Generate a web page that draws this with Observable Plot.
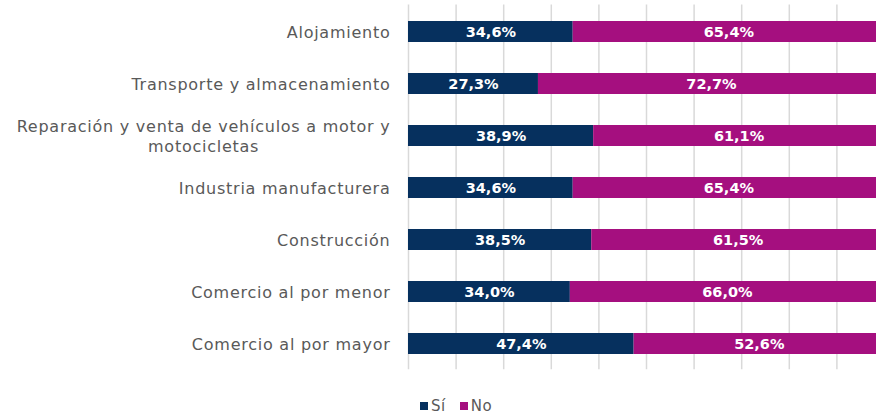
<!DOCTYPE html>
<html>
<head>
<meta charset="utf-8">
<script src="https://cdn.jsdelivr.net/npm/d3@7"></script>
<script src="https://cdn.jsdelivr.net/npm/@observablehq/plot@0.6"></script>
<style>
  html, body { margin: 0; padding: 0; background: #fff; overflow: hidden; }
  #chart { position: relative; width: 876px; height: 419px; }
  #legend { position: absolute; left: 420px; top: 397px; font-family: "DejaVu Sans", sans-serif; font-size: 15px; letter-spacing: 0.5px; color: #595959; display: flex; align-items: center; }
  #legend .sw { display: inline-block; width: 8px; height: 8px; margin-right: 3px; }
  #legend .item { display: flex; align-items: center; margin-right: 14px; }
</style>
</head>
<body>
<div id="chart"></div>
<script>
const categories = [
  "Alojamiento",
  "Transporte y almacenamiento",
  "Reparación y venta de vehículos a motor y\nmotocicletas",
  "Industria manufacturera",
  "Construcción",
  "Comercio al por menor",
  "Comercio al por mayor"
];
const series = ["Sí", "No"];
const siValues = [34.6, 27.3, 38.9, 34.6, 38.5, 34.0, 47.4];
const noValues = [65.4, 72.7, 61.1, 65.4, 61.5, 66.0, 52.6];
const gridTicks = [0, 10, 20, 30, 40, 50, 60, 70, 80, 90, 100];
const colors = ["#06305E", "#A50F7F"];

const data = [];
categories.forEach((c, i) => {
  data.push({cat: c, series: "Sí", value: siValues[i]});
  data.push({cat: c, series: "No", value: noValues[i]});
});

const fmt = v => v.toFixed(1).replace(".", ",") + "%";

const plot = Plot.plot({
  width: 876,
  height: 385,
  marginLeft: 408,
  marginRight: -8,
  marginTop: 4.5,
  marginBottom: 15.7,
  x: {domain: [0, 100], axis: null},
  y: {domain: categories, axis: null, paddingInner: 0.6, paddingOuter: 0.3},
  color: {domain: series, range: colors},
  marks: [
    Plot.ruleX(gridTicks, {stroke: "#d9d9d9", strokeWidth: 1.5}),
    Plot.barX(data, Plot.stackX({x: "value", y: "cat", fill: "series"})),
    Plot.text(data, Plot.stackX({
      x: "value", y: "cat", text: d => fmt(d.value),
      fill: "white", fontWeight: "bold", fontSize: 14.5,
      fontFamily: "DejaVu Sans, sans-serif"
    })),
    Plot.text(categories, {
      y: d => d, text: d => d, frameAnchor: "left", dx: -18,
      textAnchor: "end", fill: "#595959", fontSize: 16, lineHeight: 1.25,
      fontFamily: "DejaVu Sans, sans-serif"
    })
  ]
});

document.getElementById("chart").appendChild(plot);

// category labels: widen like the original typeface
plot.querySelectorAll("text").forEach(t => {
  if (t.getAttribute("fill") === "#595959" || t.closest("g[fill='#595959']")) {
    t.setAttribute("letter-spacing", "0.75");
  }
});
// center second line of wrapped labels under first line (Excel style)
plot.querySelectorAll("text").forEach(t => {
  const spans = t.querySelectorAll("tspan");
  if (spans.length === 2) {
    const w = spans[0].getComputedTextLength();
    spans[1].setAttribute("text-anchor", "middle");
    spans[1].setAttribute("x", -w / 2);
  }
});

const legend = document.createElement("div");
legend.id = "legend";
series.forEach((s, i) => {
  const item = document.createElement("span");
  item.className = "item";
  const sw = document.createElement("span");
  sw.className = "sw";
  sw.style.background = colors[i];
  item.appendChild(sw);
  item.appendChild(document.createTextNode(s));
  legend.appendChild(item);
});
document.getElementById("chart").appendChild(legend);
</script>
</body>
</html>
